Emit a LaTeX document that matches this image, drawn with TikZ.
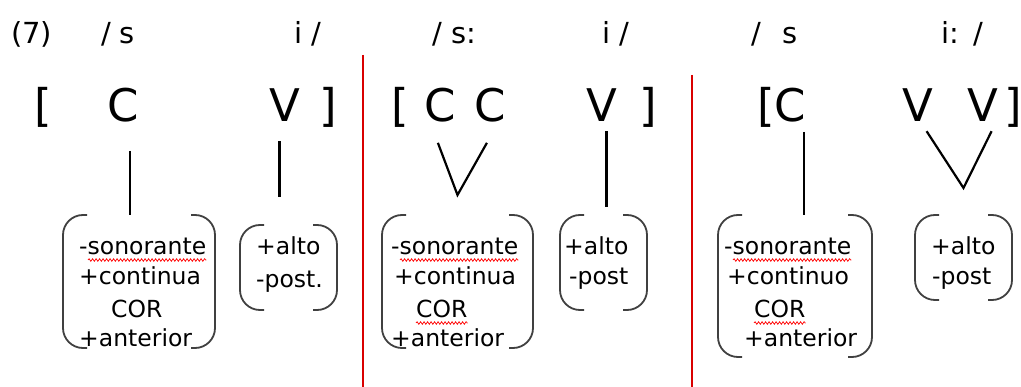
\documentclass[tikz,border=0pt]{standalone}
\usepackage{fontspec}
\setmainfont{DejaVu Sans}
\usetikzlibrary{positioning,decorations.pathmorphing}

\newcommand{\featbrackets}[1]{%
    \draw[brk] ([xshift=24pt]#1.north west) -- (#1.north west) -- (#1.south west) -- ([xshift=24pt]#1.south west);
    \draw[brk] ([xshift=-24pt]#1.north east) -- (#1.north east) -- (#1.south east) -- ([xshift=-24pt]#1.south east);}

\begin{document}
\begin{tikzpicture}[x=1pt, y=-1pt,
        head_text/.style={anchor=base west, inner sep=0pt, font=\fontsize{29}{34}\selectfont},
        seg_text/.style={anchor=base west, inner sep=0pt, font=\fontsize{45}{50}\selectfont},
        feat_text/.style={anchor=base west, inner sep=0pt, font=\fontsize{23.5}{28}\selectfont},
        matrix_box/.style={draw=none, inner sep=0pt, outer sep=0pt},
        brk/.style={black!75, line width=1.8pt, rounded corners=20pt},
        stem/.style={black, line width=2.2pt},
        divider/.style={red!85!black, line width=2pt},
        spell/.style={red, line width=0.7pt, decorate, decoration={snake, amplitude=1.3pt, segment length=3.5pt}}
        ]
            \useasboundingbox (0,0) rectangle (1021,387);

            % header
            \node[head_text]  (num)   at (11,44)    {(7)};
            \node[head_text]  (ua)    at (101,44)   {/\hspace{0.3em}s};
            \node[head_text]  (ub)    at (294,44)   {i /};
            \node[head_text]  (uc)    at (432,44)   {/ s:};
            \node[head_text]  (ud)    at (602,44)   {i /};
            \node[head_text]  (ue)    at (751,44)   {/\hspace{0.75em}s};
            \node[head_text]  (uf)    at (941,44)   {i:\hspace{0.5em}/};

            % skeleton 1
            \node[seg_text]   (lb1)   at (34,122)   {[};
            \node[seg_text]   (c1)    at (107,122)  {C};
            \node[seg_text]   (v1)    at (269,122)  {V};
            \node[seg_text]   (rb1)   at (319,122)  {]};
            % skeleton 2
            \node[seg_text]   (lb2)   at (391,122)  {[};
            \node[seg_text]   (c2a)   at (424,122)  {C};
            \node[seg_text]   (c2b)   at (474,122)  {C};
            \node[seg_text]   (v2)    at (586,122)  {V};
            \node[seg_text]   (rb2)   at (639,122)  {]};
            % skeleton 3
            \node[seg_text]   (lb3)   at (757,122)  {[};
            \node[seg_text]   (c3)    at (774,122)  {C};
            \node[seg_text]   (v3a)   at (902,122)  {V};
            \node[seg_text]   (v3b)   at (967,122)  {V};
            \node[seg_text]   (rb3)   at (1004,122) {]};

            % feature matrices
            \node[matrix_box, minimum width=152pt, minimum height=133pt] (m1) at (139,281.5) {};
            \node[matrix_box, minimum width=97pt,  minimum height=85pt]  (m2) at (288.5,267.5) {};
            \node[matrix_box, minimum width=151pt, minimum height=133pt] (m3) at (457.5,281.5) {};
            \node[matrix_box, minimum width=87pt,  minimum height=95pt]  (m4) at (603.5,262.5) {};
            \node[matrix_box, minimum width=154pt, minimum height=142pt] (m5) at (795,286) {};
            \node[matrix_box, minimum width=97pt,  minimum height=85pt]  (m6) at (963.5,257.5) {};
            \featbrackets{m1}
            \featbrackets{m2}
            \featbrackets{m3}
            \featbrackets{m4}
            \featbrackets{m5}
            \featbrackets{m6}

            \node[feat_text]  (f1a)   at (79,255)   {-sonorante};
            \node[feat_text]  (f1b)   at (79,285)   {+continua};
            \node[feat_text]  (f1c)   at (111,318)  {COR};
            \node[feat_text]  (f1d)   at (79,347)   {+anterior};
            \node[feat_text]  (f2a)   at (256,255)  {+alto};
            \node[feat_text]  (f2b)   at (256,288)  {-post.};
            \node[feat_text]  (f3a)   at (391,255)  {-sonorante};
            \node[feat_text]  (f3b)   at (394,285)  {+continua};
            \node[feat_text]  (f3c)   at (416,318)  {COR};
            \node[feat_text]  (f3d)   at (391,347)  {+anterior};
            \node[feat_text]  (f4a)   at (564,255)  {+alto};
            \node[feat_text]  (f4b)   at (569,285)  {-post};
            \node[feat_text]  (f5a)   at (724,255)  {-sonorante};
            \node[feat_text]  (f5b)   at (727,285)  {+continuo};
            \node[feat_text]  (f5c)   at (754,318)  {COR};
            \node[feat_text]  (f5d)   at (744,347)  {+anterior};
            \node[feat_text]  (f6a)   at (931,255)  {+alto};
            \node[feat_text]  (f6b)   at (932,285)  {-post};

            % spell check marks
            \draw[spell] ([xshift=9pt,yshift=-5pt]f1a.base west) -- ([yshift=-5pt]f1a.base east);
            \draw[spell] ([xshift=9pt,yshift=-5pt]f3a.base west) -- ([yshift=-5pt]f3a.base east);
            \draw[spell] ([xshift=9pt,yshift=-5pt]f5a.base west) -- ([yshift=-5pt]f5a.base east);
            \draw[spell] ([yshift=-5pt]f3c.base west) -- ([yshift=-5pt]f3c.base east);
            \draw[spell] ([yshift=-5pt]f5c.base west) -- ([yshift=-5pt]f5c.base east);

            % association lines
            \draw[stem] ([shift={(7pt,-28pt)}]c1.south) -- ([xshift=7pt]c1.south |- m1.north);
            \draw[stem] ([shift={(-5pt,-19pt)}]v1.south) -- ([shift={(-5pt,28pt)}]v1.south |- m2.north);
            \draw[stem] ([shift={(-2pt,-20pt)}]c2a.south) -- ([yshift=20pt]m3.north) -- ([shift={(-3pt,-20pt)}]c2b.south);
            \draw[stem] ([shift={(5pt,-9pt)}]v2.south) -- ([shift={(5pt,8pt)}]v2.south |- m4.north);
            \draw[stem] ([shift={(-2pt,-9pt)}]c3.south east) -- ([xshift=-2pt]c3.south east |- m5.north);
            \draw[stem] ([shift={(9pt,-9pt)}]v3a.south) -- ([yshift=27pt]m6.north) -- ([shift={(9pt,-9pt)}]v3b.south);

            % dividers
            \draw[divider] (363,55) -- (363,387);
            \draw[divider] (692,75) -- (692,387);
        \end{tikzpicture}
\end{document}
